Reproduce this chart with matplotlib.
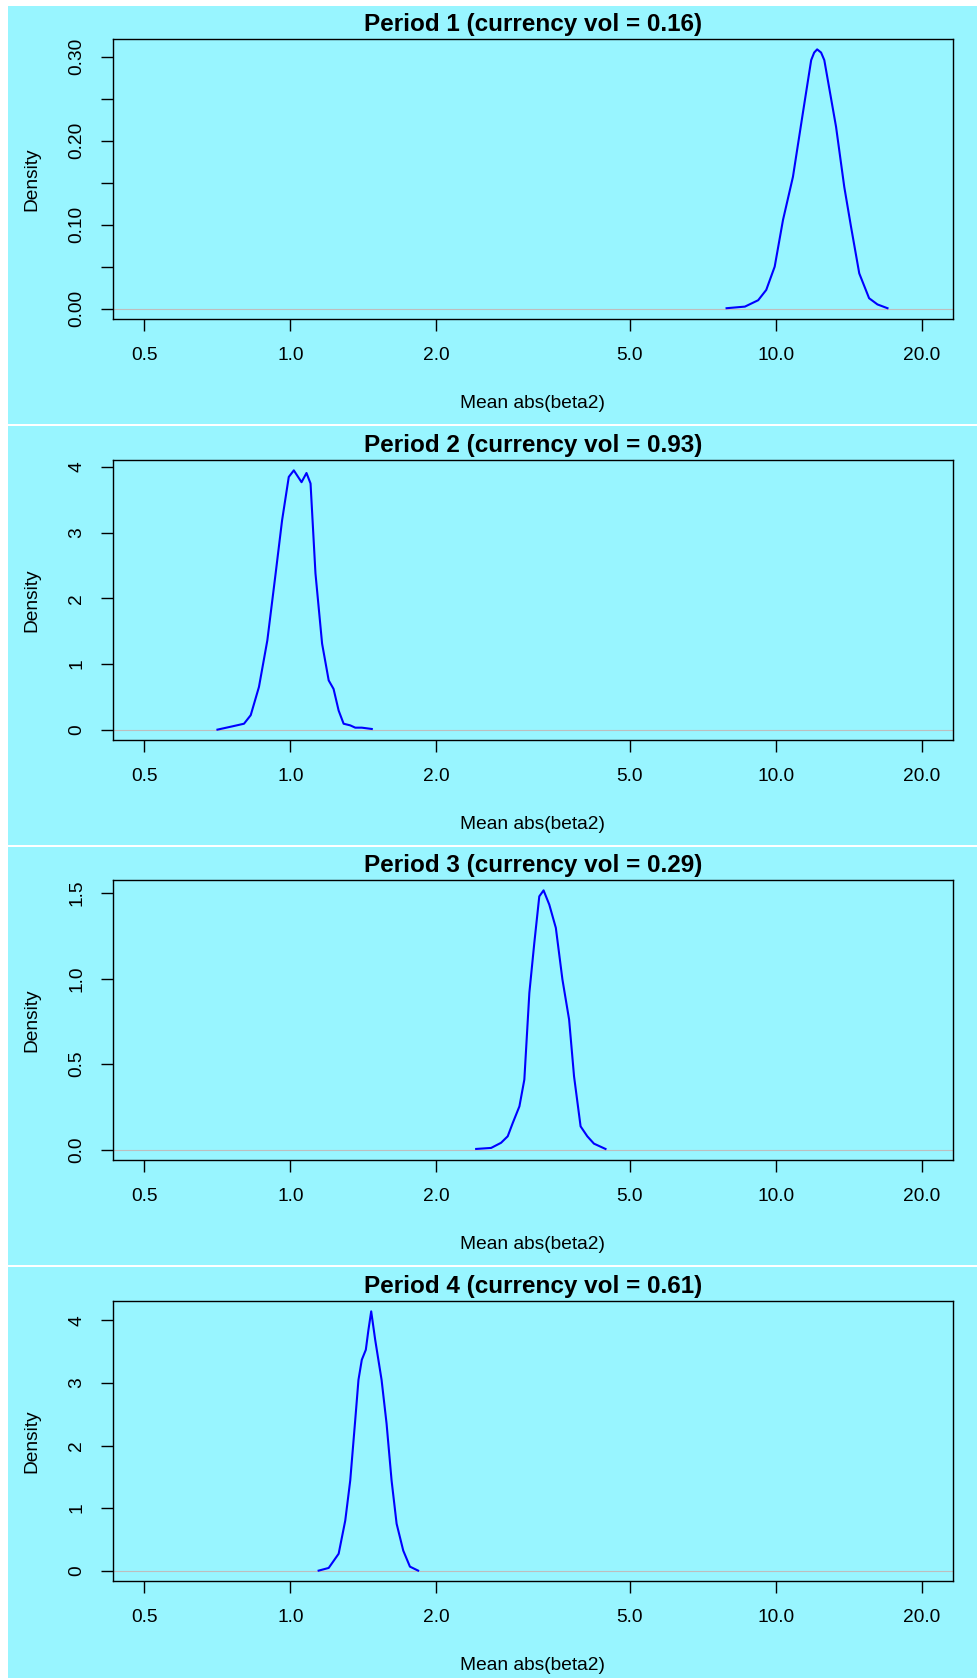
import numpy as np
import matplotlib
matplotlib.use("Agg")
from matplotlib import pyplot as plt
from matplotlib.patches import Rectangle
from matplotlib.ticker import NullLocator

plt.rcParams['font.family'] = ['Liberation Sans', 'DejaVu Sans']

# density curves (x = mean abs(beta2), y = density)
p1_x = [7.92, 8.64, 9.2, 9.56, 9.95, 10.35, 10.85, 11.37, 11.83, 12.0, 12.17, 12.4, 12.59,
        13.31, 13.84, 14.29, 14.86, 15.57, 16.2, 16.99]
p1_y = [0.0005, 0.0024, 0.010, 0.0223, 0.050, 0.1056, 0.157, 0.2326, 0.296, 0.305, 0.3088, 0.305, 0.296,
        0.2167, 0.145, 0.0976, 0.042, 0.0124, 0.005, 0.0005]

p2_x = [0.708, 0.760, 0.803, 0.829, 0.862, 0.897, 0.933, 0.962, 0.993, 1.017, 1.055, 1.080,
        1.101, 1.127, 1.163, 1.200, 1.228, 1.258, 1.288, 1.329, 1.361, 1.404, 1.472]
p2_y = [0.0, 0.05, 0.09, 0.22, 0.65, 1.36, 2.38, 3.19, 3.85, 3.95, 3.77, 3.91,
        3.75, 2.38, 1.31, 0.75, 0.62, 0.29, 0.09, 0.065, 0.03, 0.03, 0.01]

p3_x = [2.415, 2.593, 2.718, 2.805, 2.873, 2.965, 3.035, 3.108, 3.182, 3.258, 3.325, 3.416,
        3.524, 3.636, 3.753, 3.842, 3.963, 4.091, 4.222, 4.46]
p3_y = [0.004, 0.01, 0.04, 0.078, 0.156, 0.253, 0.409, 0.916, 1.208, 1.48, 1.515, 1.432,
        1.296, 0.994, 0.76, 0.428, 0.136, 0.078, 0.035, 0.004]

p4_x = [1.144, 1.200, 1.258, 1.298, 1.329, 1.361, 1.382, 1.404, 1.431, 1.449, 1.468, 1.496,
        1.542, 1.579, 1.617, 1.656, 1.709, 1.764, 1.834]
p4_y = [0.0, 0.043, 0.27, 0.80, 1.44, 2.41, 3.05, 3.37, 3.53, 3.85, 4.144, 3.69,
        3.05, 2.35, 1.44, 0.75, 0.32, 0.064, 0.0]

curves = [(p1_x, p1_y), (p2_x, p2_y), (p3_x, p3_y), (p4_x, p4_y)]
titles = ['Period 1 (currency vol = 0.16)', 'Period 2 (currency vol = 0.93)',
          'Period 3 (currency vol = 0.29)', 'Period 4 (currency vol = 0.61)']
yticks = [[0, 0.05, 0.10, 0.15, 0.20, 0.25, 0.30], [0, 1, 2, 3, 4],
          [0, 0.5, 1.0, 1.5], [0, 1, 2, 3, 4]]
yticklabels = [['0.00', '', '0.10', '', '0.20', '', '0.30'], ['0', '1', '2', '3', '4'],
               ['0.0', '0.5', '1.0', '1.5'], ['0', '1', '2', '3', '4']]
xticks = [0.5, 1.0, 2.0, 5.0, 10.0, 20.0]
xticklabels = ['0.5', '1.0', '2.0', '5.0', '10.0', '20.0']

W, H = 977, 1678
bg = '#98F5FF'
fig = plt.figure(figsize=(W / 100, H / 100), dpi=100)
fig.patch.set_facecolor('white')

# cyan panel backgrounds (pixel rows)
panels = [(6, 424), (426, 845), (847, 1265), (1267, 1678)]
for top, bot in panels:
    fig.add_artist(Rectangle((8 / W, 1 - bot / H), 1 - 8 / W, (bot - top) / H,
                             transform=fig.transFigure, facecolor=bg, edgecolor='none',
                             zorder=-10))

box_tops = [39, 460, 880, 1301]
box_h = 280
lo, hi = np.log10(0.5), np.log10(20)
pad = 0.04 * (hi - lo)
xlim = (10 ** (lo - pad), 10 ** (hi + pad))

fs = 13.8
for i in range(4):
    ax = fig.add_axes([113 / W, 1 - (box_tops[i] + box_h) / H, 840 / W, box_h / H])
    ax.set_facecolor(bg)
    x, y = curves[i]
    ymax = max(y)
    ax.axhline(0, color='#BEBEBE', lw=0.8, zorder=1)
    ax.plot(x, y, color='#0000FF', lw=1.5, zorder=2)
    ax.set_xscale('log')
    ax.set_xlim(xlim)
    ax.set_ylim(-0.04 * ymax, 1.04 * ymax)
    ax.set_xticks(xticks)
    ax.set_xticklabels(xticklabels)
    ax.xaxis.set_minor_locator(NullLocator())
    ax.set_yticks(yticks[i])
    ax.set_yticklabels(yticklabels[i])
    ax.tick_params(axis='both', direction='out', length=8.6, width=1.0, pad=11.5,
                   labelsize=fs, colors='black')
    for lab in ax.get_yticklabels():
        lab.set_rotation(90)
        lab.set_va('center')
    for s in ax.spines.values():
        s.set_linewidth(1.0)
    ax.set_xlabel('Mean abs(beta2)', fontsize=fs)
    ax.xaxis.set_label_coords(0.5, -0.271)
    ax.set_ylabel('Density', fontsize=fs)
    ax.yaxis.set_label_coords(-0.087, 0.5)
    ax.set_title(titles[i], fontsize=17.5, fontweight='bold', pad=6)

fig.savefig('out.png', dpi=100)
